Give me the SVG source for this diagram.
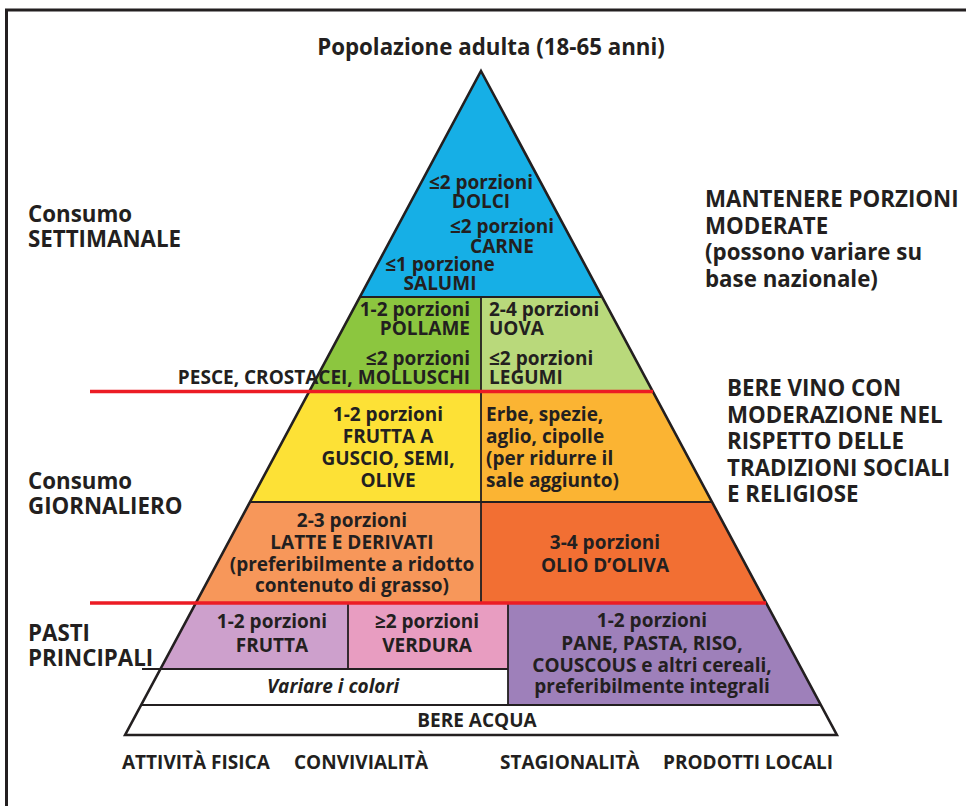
<svg xmlns="http://www.w3.org/2000/svg" width="966" height="806" viewBox="0 0 966 806">
<style>
text{font-family:"Open Sans","Liberation Sans",sans-serif;font-weight:700;fill:#231F20}
.p{font-size:19px}
.l{font-size:22.3px}
.c{text-anchor:middle}
.e{text-anchor:end}
.ln{stroke:#231F20;stroke-width:1.8;fill:none}
.red{stroke:#EC1C24;stroke-width:3.6;fill:none}
</style>
<rect x="0" y="0" width="966" height="806" fill="#ffffff"/>
<path d="M6.5,806 V10 H966" fill="none" stroke="#231F20" stroke-width="3"/>
<text class="c" x="491" y="55" style="font-size:22.3px">Popolazione adulta (18-65 anni)</text>

<g id="weekly">
  <polygon points="481,71 602.1,297 359.9,297" fill="#16AFE6"/>
  <text class="p c" x="481" y="189">≤2 porzioni</text>
  <text class="p c" x="481" y="208">DOLCI</text>
  <text class="p c" x="502" y="233">≤2 porzioni</text>
  <text class="p c" x="502" y="253">CARNE</text>
  <text class="p c" x="440" y="271">≤1 porzione</text>
  <text class="p c" x="440" y="290">SALUMI</text>
</g>
<g id="poultry-fish">
  <polygon points="359.9,297 481,297 481,392 308.9,392" fill="#8CC63F"/>
  <text class="p e" x="470" y="316">1-2 porzioni</text>
  <text class="p e" x="470" y="335">POLLAME</text>
  <text class="p e" x="470" y="365">≤2 porzioni</text>
  <text class="p e" x="470" y="384">PESCE, CROSTACEI, MOLLUSCHI</text>
</g>
<g id="eggs-legumes">
  <polygon points="481,297 602.1,297 653.1,392 481,392" fill="#B9D97B"/>
  <text class="p" x="489" y="316">2-4 porzioni</text>
  <text class="p" x="489" y="335">UOVA</text>
  <text class="p" x="489" y="365">≤2 porzioni</text>
  <text class="p" x="489" y="384">LEGUMI</text>
</g>
<g id="nuts">
  <polygon points="308.9,392 481,392 481,502 250,502" fill="#FDE136"/>
  <text class="p c" x="388" y="421">1-2 porzioni</text>
  <text class="p c" x="388" y="443">FRUTTA A</text>
  <text class="p c" x="388" y="465">GUSCIO, SEMI,</text>
  <text class="p c" x="388" y="487">OLIVE</text>
</g>
<g id="herbs">
  <polygon points="481,392 653.1,392 712,502 481,502" fill="#FBB433"/>
  <text class="p" x="486" y="421">Erbe, spezie,</text>
  <text class="p" x="486" y="443">aglio, cipolle</text>
  <text class="p" x="486" y="465">(per ridurre il</text>
  <text class="p" x="486" y="487">sale aggiunto)</text>
</g>
<g id="dairy">
  <polygon points="250,502 481,502 481,603 195.8,603" fill="#F7975A"/>
  <text class="p c" x="352" y="527">2-3 porzioni</text>
  <text class="p c" x="352" y="549">LATTE E DERIVATI</text>
  <text class="p c" x="352" y="571">(preferibilmente a ridotto</text>
  <text class="p c" x="352" y="592">contenuto di grasso)</text>
</g>
<g id="olive-oil">
  <polygon points="481,502 712,502 766.2,603 481,603" fill="#F26F33"/>
  <text class="p c" x="605" y="549">3-4 porzioni</text>
  <text class="p c" x="605" y="572">OLIO D’OLIVA</text>
</g>
<g id="fruit">
  <polygon points="195.8,603 348,603 348,669 160.5,669" fill="#CDA0CC"/>
  <text class="p c" x="272" y="628">1-2 porzioni</text>
  <text class="p c" x="272" y="652">FRUTTA</text>
</g>
<g id="vegetables">
  <polygon points="348,603 508,603 508,669 348,669" fill="#E89DC1"/>
  <text class="p c" x="427" y="628">≥2 porzioni</text>
  <text class="p c" x="427" y="652">VERDURA</text>
</g>
<g id="cereals">
  <polygon points="508,603 766.2,603 820.8,705 508,705" fill="#9E80BA"/>
  <text class="p c" x="652" y="627">1-2 porzioni</text>
  <text class="p c" x="652" y="650">PANE, PASTA, RISO,</text>
  <text class="p c" x="652" y="672">COUSCOUS e altri cereali,</text>
  <text class="p c" x="652" y="693">preferibilmente integrali</text>
</g>
<g id="colors">
  <polygon points="160.5,669 508,669 508,705 141.2,705" fill="#ffffff"/>
  <text class="p c" x="333" y="693" style="font-style:italic">Variare i colori</text>
</g>
<g id="water">
  <polygon points="141.2,705 820.8,705 836.9,735 125.1,735" fill="#ffffff"/>
  <text class="p c" x="477" y="727">BERE ACQUA</text>
</g>

<g id="connectors">
  <path class="ln" d="M359.9,297 H602.1 M481,297 V603 M308.9,392 H653.1 M250,502 H712 M195.8,603 H766.2 M348,603 V669 M508,603 V705 M142,669 H508 M141.2,705 H820.8"/>
  <polygon points="481,71 836.9,735 125.1,735" fill="none" stroke="#231F20" stroke-width="2.6"/>
  <path class="red" d="M90,391.5 H653 M90,603 H766"/>
</g>

<g id="left-labels">
  <text class="l" x="28" y="222">Consumo</text>
  <text class="l" x="28" y="247">SETTIMANALE</text>
  <text class="l" x="28" y="489">Consumo</text>
  <text class="l" x="28" y="514">GIORNALIERO</text>
  <text class="l" x="28" y="641">PASTI</text>
  <text class="l" x="28" y="666">PRINCIPALI</text>
</g>
<g id="right-labels">
  <text class="l" x="705" y="207">MANTENERE PORZIONI</text>
  <text class="l" x="705" y="233.5">MODERATE</text>
  <text class="l" x="705" y="260">(possono variare su</text>
  <text class="l" x="705" y="286.5">base nazionale)</text>
  <text class="l" x="727" y="396">BERE VINO CON</text>
  <text class="l" x="727" y="422.5">MODERAZIONE NEL</text>
  <text class="l" x="727" y="449">RISPETTO DELLE</text>
  <text class="l" x="727" y="475.5">TRADIZIONI SOCIALI</text>
  <text class="l" x="727" y="502">E RELIGIOSE</text>
</g>
<g id="bottom-labels">
  <text class="p" x="122" y="769">ATTIVITÀ FISICA</text>
  <text class="p" x="294" y="769">CONVIVIALITÀ</text>
  <text class="p" x="500" y="769">STAGIONALITÀ</text>
  <text class="p" x="663" y="769">PRODOTTI LOCALI</text>
</g>
</svg>
